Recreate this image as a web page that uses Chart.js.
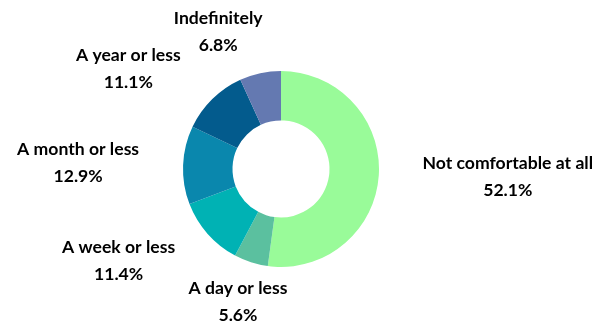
<!DOCTYPE html>
<html>
<head>
<meta charset="utf-8">
<script src="https://cdn.jsdelivr.net/npm/chart.js@4/dist/chart.umd.min.js"></script>
<style>
  html, body { margin: 0; padding: 0; background: #fff; }
  #wrap { width: 600px; height: 326px; position: relative; }
</style>
</head>
<body>
<div id="wrap"><canvas id="chart"></canvas></div>
<script>
/* Donut: how long people are comfortable keeping data */

const LABELS = ["Not comfortable at all", "A day or less", "A week or less",
                "A month or less", "A year or less", "Indefinitely"];
const VALUES = [52.1, 5.6, 11.4, 12.9, 11.1, 6.8];
const COLORS = ["#99fb99", "#5bc09f", "#00b2b4", "#0a87ad", "#035b8d", "#6479b1"];

// label block offset from the outer midpoint of each slice (layout only)
const LABEL_SHIFT = [[129, 1], [-13, 40], [-89, 27], [-105, -2], [-84, -30], [-42, -41]];

const outsideLabels = {
  id: "outsideLabels",
  afterDatasetsDraw(chart) {
    const ctx = chart.ctx;
    const arcs = chart.getDatasetMeta(0).data;
    ctx.save();
    ctx.font = "bold 17.6px Lato, 'Open Sans', sans-serif";
    ctx.fillStyle = "#000";
    ctx.textAlign = "center";
    ctx.textBaseline = "middle";
    arcs.forEach((arc, i) => {
      const p = arc.getProps(["x", "y", "startAngle", "endAngle", "outerRadius"], true);
      const mid = (p.startAngle + p.endAngle) / 2;
      const x = p.x + Math.cos(mid) * p.outerRadius + LABEL_SHIFT[i][0];
      const y = p.y + Math.sin(mid) * p.outerRadius + LABEL_SHIFT[i][1];
      ctx.fillText(LABELS[i], x, y - 13.5);
      ctx.fillText(VALUES[i].toFixed(1) + "%", x, y + 13.5);
    });
    ctx.restore();
  },
};

new Chart(document.getElementById("chart"), {
  type: "doughnut",
  data: {
    labels: LABELS,
    datasets: [{
      data: VALUES,
      backgroundColor: COLORS,
      borderWidth: 0,
    }],
  },
  options: {
    responsive: true,
    maintainAspectRatio: false,
    animation: false,
    cutout: "49.5%",
    layout: { padding: { top: 71, bottom: 59, left: 183, right: 221 } },
    plugins: { legend: { display: false }, tooltip: { enabled: false } },
  },
  plugins: [outsideLabels],
});
</script>
</body>
</html>
